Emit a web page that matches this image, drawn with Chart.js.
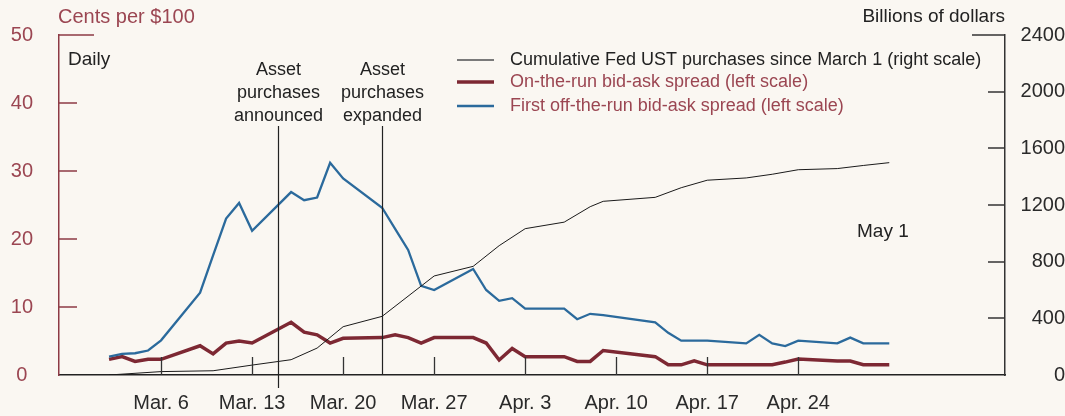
<!DOCTYPE html>
<html>
<head>
<meta charset="utf-8">
<script src="https://cdn.jsdelivr.net/npm/chart.js@4.4.0/dist/chart.umd.min.js"></script>
<style>
html,body{margin:0;padding:0;background:#faf7f2;}
#wrap{width:1065px;height:416px;position:relative;}
</style>
</head>
<body>
<div id="wrap"><canvas id="c"></canvas></div>
<script>
// days counted from March 1, 2020 (Mar 2 = 1), business days only
const spreadDays = [1,2,3,4,5, 8,9,10,11,12, 15,16,17,18,19, 22,23,24,25,26, 29,30,31,32,33, 36,37,38,39, 43,44,45,46,47, 50,51,52,53,54, 57,58,59,60,61];
// cents per $100
const onTheRun = [2.3,2.7,2.0,2.3,2.3, 4.3,3.1,4.7,5.0,4.7, 7.75,6.3,5.9,4.7,5.4, 5.5,5.9,5.5,4.7,5.5, 5.5,4.7,2.2,3.9,2.7, 2.7,2.0,2.0,3.6, 2.7,1.5,1.5,2.1,1.5, 1.5,1.5,1.5,1.9,2.35, 2.05,2.05,1.5,1.5,1.5];
const firstOffRun = [2.7,3.1,3.2,3.6,5.1, 12.1,17.6,23.0,25.3,21.2, 26.9,25.7,26.1,31.2,28.9, 24.6,21.5,18.4,13.1,12.5, 15.6,12.5,10.9,11.3,9.75, 9.75,8.2,9.0,8.8, 7.75,6.2,5.05,5.05,5.05, 4.65,5.9,4.65,4.25,5.05, 4.65,5.5,4.65,4.65,4.65];
// cumulative purchases, billions of dollars
const purchaseDays = [1,5,9,12,15,17,19,22,26,29,31,33,36,38,39,43,45,47,50,52,54,57,59,61];
const purchases = [0,24,30,70,108,190,341,414,699,767,913,1033,1079,1188,1226,1254,1322,1375,1391,1417,1449,1457,1479,1499];

const xTickDays = [5,12,19,26,33,40,47,54];
const xTickLabels = ['Mar. 6','Mar. 13','Mar. 20','Mar. 27','Apr. 3','Apr. 10','Apr. 17','Apr. 24'];
const leftTicks = [0,10,20,30,40,50];
const rightTicks = [0,400,800,1200,1600,2000,2400];

const events = [
  {day:14, text:['Asset','purchases','announced'], extra:13},
  {day:22, text:['Asset','purchases','expanded'], extra:0}
];

const legendItems = [
  {label:'Cumulative Fed UST purchases since March 1 (right scale)', color:'#7a7a7a', width:2, text:'#222'},
  {label:'On-the-run bid-ask spread (left scale)', color:'#7d2833', width:3.5, text:'#9b4652'},
  {label:'First off-the-run bid-ask spread (left scale)', color:'#2b6a9c', width:2.5, text:'#9b4652'}
];

const FONT = "'Liberation Sans', Arial, sans-serif";
const RED = '#7d2833', BLUE = '#2b6a9c', AXRED = '#8d3a45', LBLRED = '#9b4652';

function seg(ctx,x1,y1,x2,y2){ctx.beginPath();ctx.moveTo(x1,y1);ctx.lineTo(x2,y2);ctx.stroke();}
function noPad(s, w){ s.width = w; s.paddingTop = 0; s.paddingBottom = 0; }

const extras = {
  id:'extras',
  afterDraw(chart){
    const {ctx, chartArea:a, scales:{x,y,y1}} = chart;
    ctx.save();
    // tick marks pointing inward
    ctx.lineWidth = 1.5;
    ctx.strokeStyle = AXRED;
    leftTicks.forEach(v=>{
      if(!v) return;
      const py = Math.round(y.getPixelForValue(v));
      seg(ctx, a.left, py, a.left + (v===50?35:18), py);
    });
    ctx.strokeStyle = '#333';
    rightTicks.forEach(v=>{
      if(!v) return;
      const py = Math.round(y1.getPixelForValue(v));
      seg(ctx, a.right, py, a.right - (v===2400?33:17), py);
    });
    ctx.lineWidth = 1.3;
    xTickDays.forEach(d=>{
      const px = Math.round(x.getPixelForValue(d))+0.5;
      seg(ctx, px, a.bottom, px, a.bottom-18);
    });
    // event lines + notes
    ctx.lineWidth = 1.2;
    ctx.strokeStyle = '#222';
    ctx.fillStyle = '#222';
    ctx.font = '18px '+FONT;
    ctx.textAlign = 'center';
    ctx.textBaseline = 'middle';
    events.forEach(e=>{
      const px = Math.round(x.getPixelForValue(e.day))+0.5;
      seg(ctx, px, 126, px, a.bottom + e.extra);
      e.text.forEach((t,i)=>ctx.fillText(t, px, 70 + i*23));
    });
    // legend
    ctx.textAlign = 'left';
    ctx.font = '18px '+FONT;
    legendItems.forEach((it,i)=>{
      const ly = [60,82,106][i];
      ctx.strokeStyle = it.color; ctx.lineWidth = it.width;
      seg(ctx, 457, ly, 494, ly);
      ctx.fillStyle = it.text;
      ctx.fillText(it.label, 510, ly);
    });
    // titles and notes
    ctx.font = '20px '+FONT;
    ctx.fillStyle = LBLRED;
    ctx.fillText('Cents per $100', 58, 17);
    ctx.fillStyle = '#222';
    ctx.font = '19px '+FONT;
    ctx.textAlign = 'right';
    ctx.fillText('Billions of dollars', 1005, 17);
    ctx.textAlign = 'left';
    ctx.fillText('Daily', 68, 60);
    ctx.fillText('May 1', 857, 232);
    ctx.restore();
  }
};

new Chart(document.getElementById('c'), {
  type:'line',
  data:{
    datasets:[
      {label:'Cumulative', data:purchaseDays.map((d,i)=>({x:d,y:purchases[i]})), yAxisID:'y1',
       borderColor:'#1a1a1a', borderWidth:1, pointRadius:0, tension:0},
      {label:'First off-the-run', data:spreadDays.map((d,i)=>({x:d,y:firstOffRun[i]})), yAxisID:'y',
       borderColor:BLUE, borderWidth:2.3, pointRadius:0, tension:0},
      {label:'On-the-run', data:spreadDays.map((d,i)=>({x:d,y:onTheRun[i]})), yAxisID:'y',
       borderColor:RED, borderWidth:3.5, pointRadius:0, tension:0}
    ]
  },
  options:{
    responsive:true, maintainAspectRatio:false, animation:false,
    layout:{padding:{top:35,left:0,right:0,bottom:0}},
    plugins:{legend:{display:false}, tooltip:{enabled:false}},
    scales:{
      x:{type:'linear', min:-2.85, max:69.9,
        grid:{display:false, drawTicks:false},
        border:{display:true, color:'#222', width:1.5},
        afterBuildTicks:s=>{s.ticks = xTickDays.map(v=>({value:v}));},
        afterFit:s=>{s.height = 41; s.paddingLeft = 0; s.paddingRight = 0;},
        ticks:{autoSkip:false, maxRotation:0, padding:16, color:'#2a2a2a', font:{family:FONT,size:20},
          callback:v=>{const i = xTickDays.indexOf(v); return i<0 ? '' : xTickLabels[i];}}
      },
      y:{position:'left', min:0, max:50,
        grid:{display:false, drawTicks:false},
        border:{display:true, color:AXRED, width:1.5},
        afterFit:s=>noPad(s, 59),
        ticks:{stepSize:10, padding:26, crossAlign:'center', color:LBLRED, font:{family:FONT,size:20}}
      },
      y1:{position:'right', min:0, max:2400,
        grid:{display:false, drawTicks:false},
        border:{display:true, color:'#333', width:1.5},
        afterFit:s=>noPad(s, 60),
        ticks:{stepSize:400, padding:6, crossAlign:'far', color:'#2a2a2a', font:{family:FONT,size:20},
          callback:v=>String(v)}
      }
    }
  },
  plugins:[extras]
});
</script>
</body>
</html>
